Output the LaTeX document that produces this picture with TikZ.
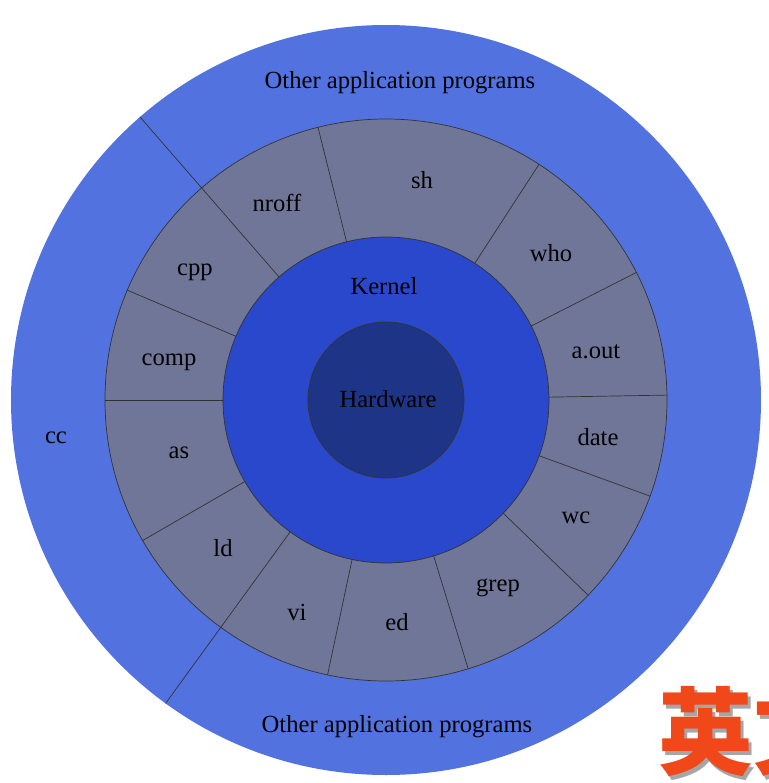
\documentclass[tikz,border=0pt]{standalone}
\usepackage{fontspec}
\setmainfont{Liberation Serif}
\newfontfamily\cjk{Noto Sans CJK SC}
\usepackage{tkz-euclide}

\definecolor{appblue}{RGB}{82,114,224}
\definecolor{shellgray}{RGB}{112,118,152}
\definecolor{kernelblue}{RGB}{42,72,204}
\definecolor{hwblue}{RGB}{30,52,134}
\definecolor{logored}{RGB}{240,72,24}

\tikzset{
  ring/.style={draw=black!80, line width=0.4pt},
  prog/.style={font=\fontsize{14}{16}\selectfont, inner sep=1pt},
}

\begin{document}
\begin{tikzpicture}
  \useasboundingbox (-7.72,-7.66) rectangle (7.66,8.0);
  \tkzDefPoints{0/0/O}

  % the four rings, outside in
  \fill[appblue] (O) circle (7.5);
  \filldraw[ring, fill=shellgray] (O) circle (5.62);
  \filldraw[ring, fill=kernelblue] (O) circle (3.26);
  \filldraw[ring, fill=hwblue] (O) circle (1.56);

  % spokes of the utility ring
  \foreach \ang [count = \n] in {104,57,27,1,-20,-44,-73,258,234,210,180,157,131}{
    \coordinate (in\n) at (\ang:3.26);
    \coordinate (out\n) at (\ang:5.62);
    \draw[ring] (in\n) -- (out\n);
  }

  % the cc sector reaches the rim
  \coordinate (rimA) at (131:7.5);
  \coordinate (rimB) at (234:7.5);
  \draw[ring] (out13) -- (rimA);
  \draw[ring] (out9) -- (rimB);

  \foreach \lbl/\x/\y [count = \n] in {sh/0.72/4.40, nroff/-2.18/3.94,
    cpp/-3.82/2.56, comp/-4.34/0.76, who/3.30/2.94, a.out/4.20/0.96,
    date/4.24/-0.74, wc/3.80/-2.36, grep/2.24/-3.76, ed/0.22/-4.44,
    vi/-1.78/-4.24, ld/-3.26/-2.96, as/-4.14/-1.06, cc/-6.60/-0.76}{
    \node[prog] (prog\n) at (\x,\y) {\lbl};
  }

  \node[prog] (kernel) at (-0.04,2.28) {Kernel};
  \node[prog] (hw) at (0.04,0.02) {Hardware};
  \node[prog] (otherTop) at (0.28,6.34) {Other application programs};
  \node[prog] (otherBot) at (0.22,-6.54) {Other application programs};

  % corner stamp
  \node[anchor=west, text=black!35, font=\cjk\bfseries\fontsize{54}{56}\selectfont]
    (stampShadow) at (5.38,-6.70) {英文};
  \node[anchor=west, text=logored, font=\cjk\bfseries\fontsize{54}{56}\selectfont]
    (stamp) at (5.32,-6.62) {英文};
\end{tikzpicture}
\end{document}
